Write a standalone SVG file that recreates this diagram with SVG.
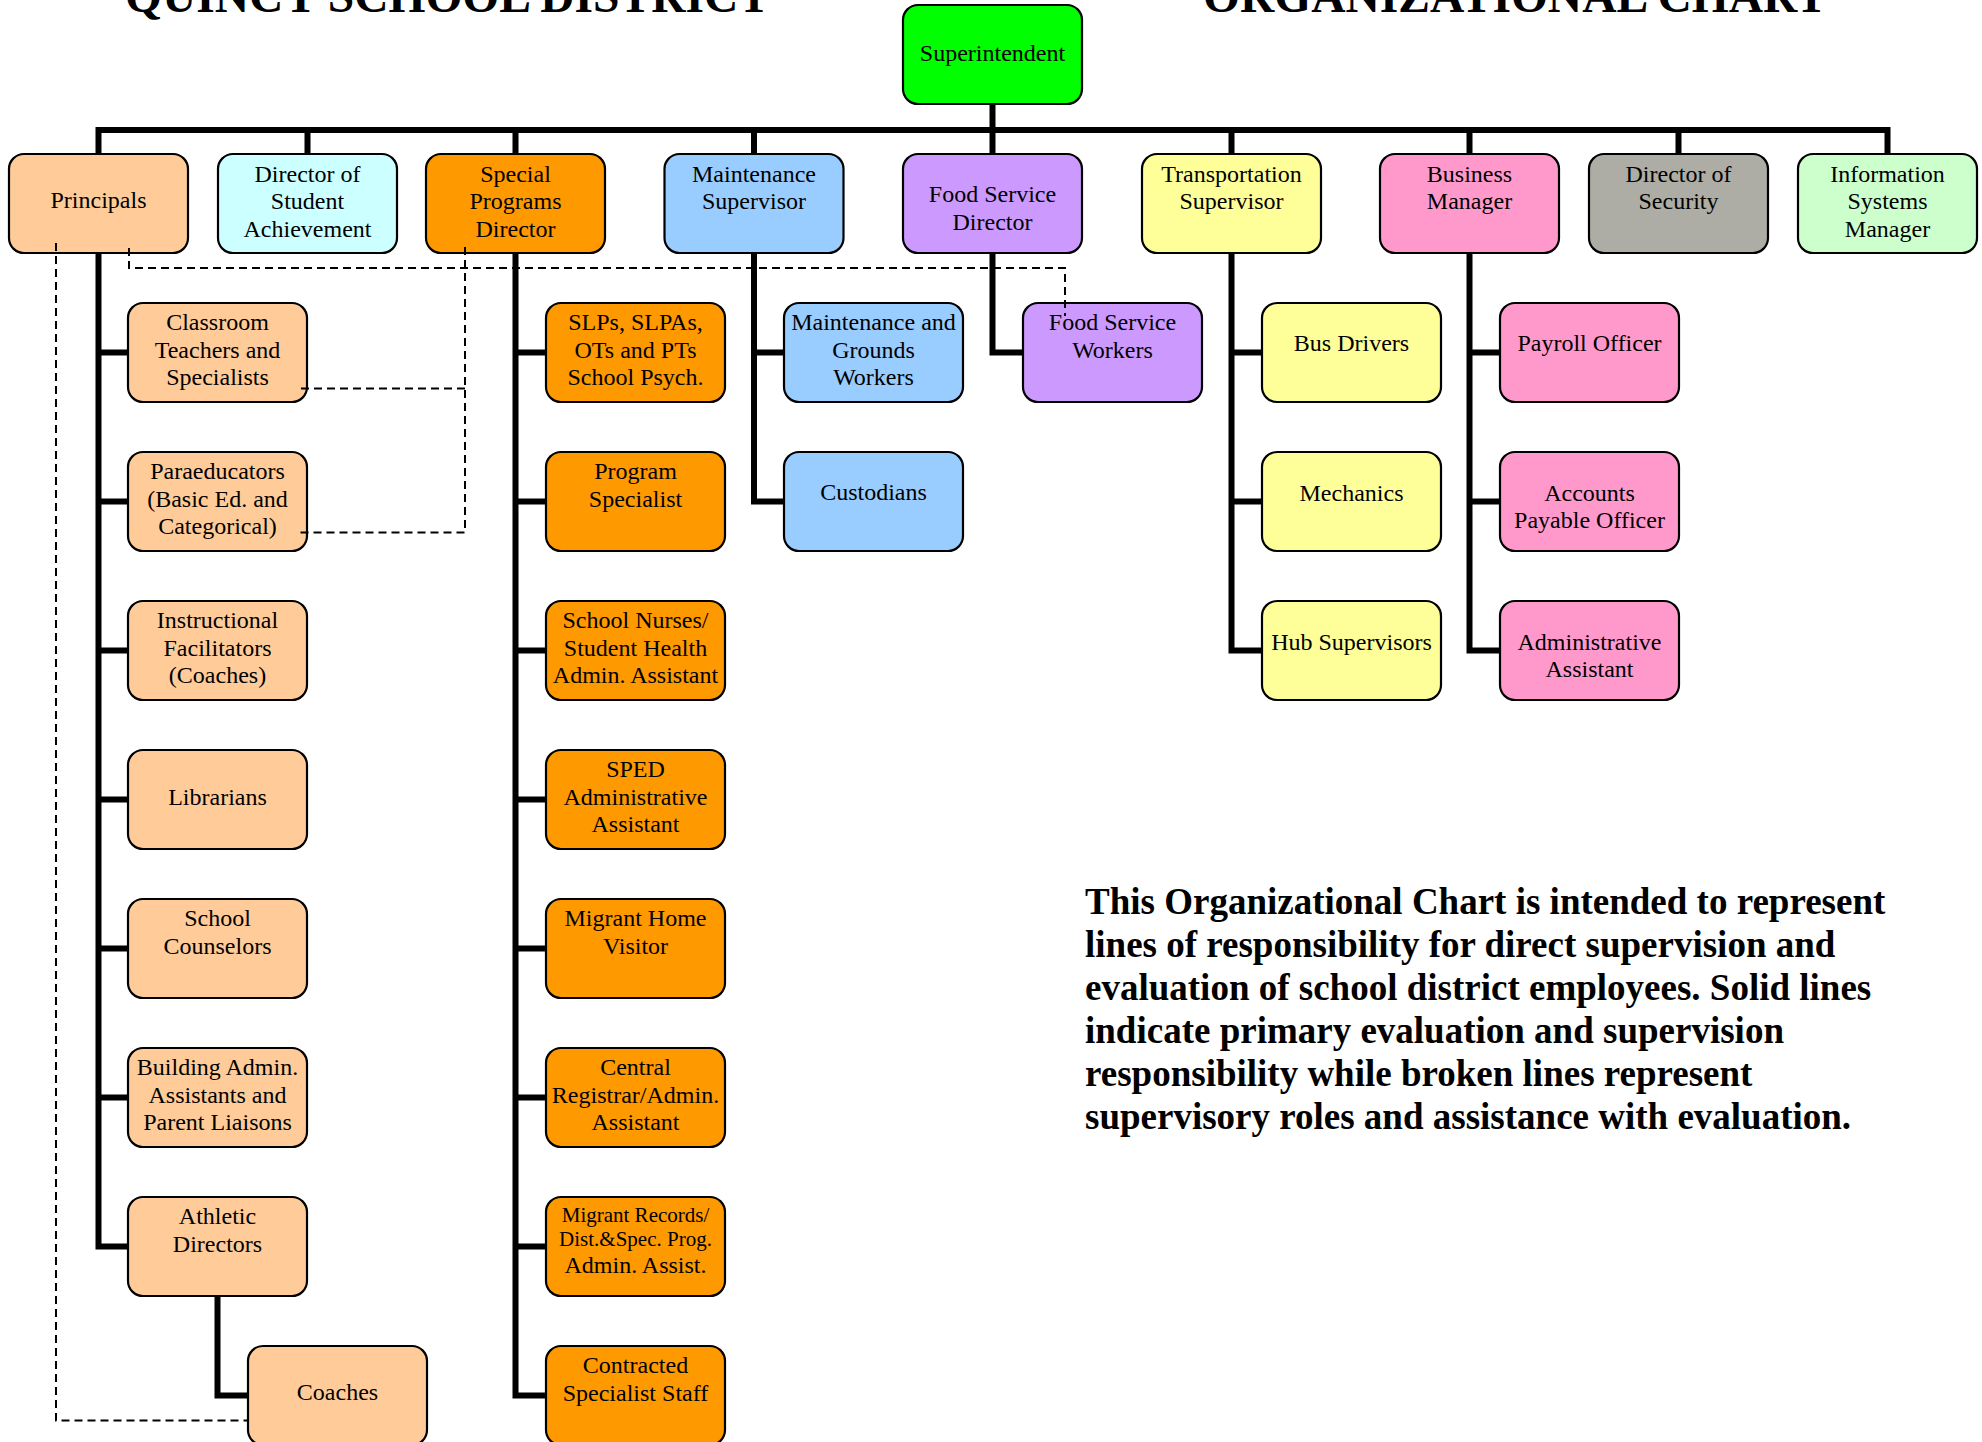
<svg xmlns="http://www.w3.org/2000/svg" width="1982" height="1442" viewBox="0 0 1982 1442">
<style>
.box{stroke:#000;stroke-width:2.2}
.n{font-family:"Liberation Serif","Times New Roman",serif;font-size:24px;text-anchor:middle;fill:#000}
.sm{font-size:21px}
.title{font-family:"Liberation Serif","Times New Roman",serif;font-size:47.5px;font-weight:bold;fill:#000}
.para{font-family:"Liberation Serif","Times New Roman",serif;font-size:37px;font-weight:bold;fill:#000}
.solid{fill:none;stroke:#000;stroke-width:6;stroke-linejoin:miter;stroke-linecap:butt}
.dash{fill:none;stroke:#000;stroke-width:2;stroke-dasharray:8 5}
.green{fill:#00FF00}.peach{fill:#FFCC99}.cyan{fill:#CCFFFF}.orange{fill:#FF9900}.blue{fill:#99CCFF}.purple{fill:#CC99FF}.yellow{fill:#FFFF99}.pink{fill:#FF99CC}.grey{fill:#ADADA5}.mint{fill:#CCFFCC}
</style>
<rect width="1982" height="1442" fill="#fff"/>
<text class="title" x="125" y="12">QUINCY SCHOOL DISTRICT</text>
<text class="title" x="1203" y="12">ORGANIZATIONAL CHART</text>

<g id="nodes">
<g id="superintendent"><rect class="box green" x="903" y="5" width="179" height="99" rx="15"/><text class="n" x="992.5" y="61">Superintendent</text></g>

<g id="principals"><rect class="box peach" x="9" y="154" width="179" height="99" rx="15"/><text class="n" x="98.5" y="208">Principals</text></g>
<g id="director-student-achievement"><rect class="box cyan" x="218" y="154" width="179" height="99" rx="15"/><text class="n"><tspan x="307.5" y="182">Director of</tspan><tspan x="307.5" y="209">Student</tspan><tspan x="307.5" y="237">Achievement</tspan></text></g>
<g id="special-programs-director"><rect class="box orange" x="426" y="154" width="179" height="99" rx="15"/><text class="n"><tspan x="515.5" y="182">Special</tspan><tspan x="515.5" y="209">Programs</tspan><tspan x="515.5" y="237">Director</tspan></text></g>
<g id="maintenance-supervisor"><rect class="box blue" x="664.5" y="154" width="179" height="99" rx="15"/><text class="n"><tspan x="754" y="182">Maintenance</tspan><tspan x="754" y="209">Supervisor</tspan></text></g>
<g id="food-service-director"><rect class="box purple" x="903" y="154" width="179" height="99" rx="15"/><text class="n"><tspan x="992.5" y="202">Food Service</tspan><tspan x="992.5" y="230">Director</tspan></text></g>
<g id="transportation-supervisor"><rect class="box yellow" x="1142" y="154" width="179" height="99" rx="15"/><text class="n"><tspan x="1231.5" y="182">Transportation</tspan><tspan x="1231.5" y="209">Supervisor</tspan></text></g>
<g id="business-manager"><rect class="box pink" x="1380" y="154" width="179" height="99" rx="15"/><text class="n"><tspan x="1469.5" y="182">Business</tspan><tspan x="1469.5" y="209">Manager</tspan></text></g>
<g id="director-security"><rect class="box grey" x="1589" y="154" width="179" height="99" rx="15"/><text class="n"><tspan x="1678.5" y="182">Director of</tspan><tspan x="1678.5" y="209">Security</tspan></text></g>
<g id="information-systems-manager"><rect class="box mint" x="1798" y="154" width="179" height="99" rx="15"/><text class="n"><tspan x="1887.5" y="182">Information</tspan><tspan x="1887.5" y="209">Systems</tspan><tspan x="1887.5" y="237">Manager</tspan></text></g>

<!-- Principals column -->
<g id="classroom-teachers"><rect class="box peach" x="128" y="303" width="179" height="99" rx="15"/><text class="n"><tspan x="217.5" y="330">Classroom</tspan><tspan x="217.5" y="357.5">Teachers and</tspan><tspan x="217.5" y="385">Specialists</tspan></text></g>
<g id="paraeducators"><rect class="box peach" x="128" y="452" width="179" height="99" rx="15"/><text class="n"><tspan x="217.5" y="479">Paraeducators</tspan><tspan x="217.5" y="506.5">(Basic Ed. and</tspan><tspan x="217.5" y="534">Categorical)</tspan></text></g>
<g id="instructional-facilitators"><rect class="box peach" x="128" y="601" width="179" height="99" rx="15"/><text class="n"><tspan x="217.5" y="628">Instructional</tspan><tspan x="217.5" y="655.5">Facilitators</tspan><tspan x="217.5" y="683">(Coaches)</tspan></text></g>
<g id="librarians"><rect class="box peach" x="128" y="750" width="179" height="99" rx="15"/><text class="n" x="217.5" y="805">Librarians</text></g>
<g id="school-counselors"><rect class="box peach" x="128" y="899" width="179" height="99" rx="15"/><text class="n"><tspan x="217.5" y="926">School</tspan><tspan x="217.5" y="953.5">Counselors</tspan></text></g>
<g id="building-admin-assistants"><rect class="box peach" x="128" y="1048" width="179" height="99" rx="15"/><text class="n"><tspan x="217.5" y="1075">Building Admin.</tspan><tspan x="217.5" y="1102.5">Assistants and</tspan><tspan x="217.5" y="1130">Parent Liaisons</tspan></text></g>
<g id="athletic-directors"><rect class="box peach" x="128" y="1197" width="179" height="99" rx="15"/><text class="n"><tspan x="217.5" y="1224">Athletic</tspan><tspan x="217.5" y="1251.5">Directors</tspan></text></g>
<g id="coaches"><rect class="box peach" x="248" y="1346" width="179" height="99" rx="15"/><text class="n" x="337.5" y="1400">Coaches</text></g>

<!-- Special Programs column -->
<g id="slps"><rect class="box orange" x="546" y="303" width="179" height="99" rx="15"/><text class="n"><tspan x="635.5" y="330">SLPs, SLPAs,</tspan><tspan x="635.5" y="357.5">OTs and PTs</tspan><tspan x="635.5" y="385">School Psych.</tspan></text></g>
<g id="program-specialist"><rect class="box orange" x="546" y="452" width="179" height="99" rx="15"/><text class="n"><tspan x="635.5" y="479">Program</tspan><tspan x="635.5" y="506.5">Specialist</tspan></text></g>
<g id="school-nurses"><rect class="box orange" x="546" y="601" width="179" height="99" rx="15"/><text class="n"><tspan x="635.5" y="628">School Nurses/</tspan><tspan x="635.5" y="655.5">Student Health</tspan><tspan x="635.5" y="683">Admin. Assistant</tspan></text></g>
<g id="sped-admin-assistant"><rect class="box orange" x="546" y="750" width="179" height="99" rx="15"/><text class="n"><tspan x="635.5" y="777">SPED</tspan><tspan x="635.5" y="804.5">Administrative</tspan><tspan x="635.5" y="832">Assistant</tspan></text></g>
<g id="migrant-home-visitor"><rect class="box orange" x="546" y="899" width="179" height="99" rx="15"/><text class="n"><tspan x="635.5" y="926">Migrant Home</tspan><tspan x="635.5" y="953.5">Visitor</tspan></text></g>
<g id="central-registrar"><rect class="box orange" x="546" y="1048" width="179" height="99" rx="15"/><text class="n"><tspan x="635.5" y="1075">Central</tspan><tspan x="635.5" y="1102.5">Registrar/Admin.</tspan><tspan x="635.5" y="1130">Assistant</tspan></text></g>
<g id="migrant-records"><rect class="box orange" x="546" y="1197" width="179" height="99" rx="15"/><text class="n"><tspan class="sm" x="635.5" y="1222">Migrant Records/</tspan><tspan class="sm" x="635.5" y="1246">Dist.&amp;Spec. Prog.</tspan><tspan x="635.5" y="1273">Admin. Assist.</tspan></text></g>
<g id="contracted-specialist-staff"><rect class="box orange" x="546" y="1346" width="179" height="99" rx="15"/><text class="n"><tspan x="635.5" y="1373">Contracted</tspan><tspan x="635.5" y="1400.5">Specialist Staff</tspan></text></g>

<!-- Maintenance column -->
<g id="maintenance-grounds-workers"><rect class="box blue" x="784" y="303" width="179" height="99" rx="15"/><text class="n"><tspan x="873.5" y="330">Maintenance and</tspan><tspan x="873.5" y="357.5">Grounds</tspan><tspan x="873.5" y="385">Workers</tspan></text></g>
<g id="custodians"><rect class="box blue" x="784" y="452" width="179" height="99" rx="15"/><text class="n" x="873.5" y="500">Custodians</text></g>

<!-- Food service -->
<g id="food-service-workers"><rect class="box purple" x="1023" y="303" width="179" height="99" rx="15"/><text class="n"><tspan x="1112.5" y="330">Food Service</tspan><tspan x="1112.5" y="357.5">Workers</tspan></text></g>

<!-- Transportation column -->
<g id="bus-drivers"><rect class="box yellow" x="1262" y="303" width="179" height="99" rx="15"/><text class="n" x="1351.5" y="351">Bus Drivers</text></g>
<g id="mechanics"><rect class="box yellow" x="1262" y="452" width="179" height="99" rx="15"/><text class="n" x="1351.5" y="500.5">Mechanics</text></g>
<g id="hub-supervisors"><rect class="box yellow" x="1262" y="601" width="179" height="99" rx="15"/><text class="n" x="1351.5" y="649.5">Hub Supervisors</text></g>

<!-- Business column -->
<g id="payroll-officer"><rect class="box pink" x="1500" y="303" width="179" height="99" rx="15"/><text class="n" x="1589.5" y="351">Payroll Officer</text></g>
<g id="accounts-payable-officer"><rect class="box pink" x="1500" y="452" width="179" height="99" rx="15"/><text class="n"><tspan x="1589.5" y="500.5">Accounts</tspan><tspan x="1589.5" y="528">Payable Officer</tspan></text></g>
<g id="administrative-assistant"><rect class="box pink" x="1500" y="601" width="179" height="99" rx="15"/><text class="n"><tspan x="1589.5" y="649.5">Administrative</tspan><tspan x="1589.5" y="677">Assistant</tspan></text></g>
</g>

<g id="connectors">
<path class="solid" d="M992.5,104 V154"/>
<path class="solid" d="M98.5,154 V130 H1887.5 V154 M307.5,130 V154 M515.5,130 V154 M754,130 V154 M1231.5,130 V154 M1469.5,130 V154 M1678.5,130 V154"/>
<path class="solid" d="M98.5,253 V1246.5 H128 M98.5,352.5 H128 M98.5,501.5 H128 M98.5,650.5 H128 M98.5,799.5 H128 M98.5,948.5 H128 M98.5,1097.5 H128"/>
<path class="solid" d="M217.5,1296 V1395.5 H248"/>
<path class="solid" d="M515.5,253 V1395.5 H546 M515.5,352.5 H546 M515.5,501.5 H546 M515.5,650.5 H546 M515.5,799.5 H546 M515.5,948.5 H546 M515.5,1097.5 H546 M515.5,1246.5 H546"/>
<path class="solid" d="M754,253 V501.5 H784 M754,352.5 H784"/>
<path class="solid" d="M992.5,253 V352.5 H1023"/>
<path class="solid" d="M1231.5,253 V650.5 H1262 M1231.5,352.5 H1262 M1231.5,501.5 H1262"/>
<path class="solid" d="M1469.5,253 V650.5 H1500 M1469.5,352.5 H1500 M1469.5,501.5 H1500"/>
<path class="dash" d="M56,243 V1420.5 H248"/>
<path class="dash" d="M129,248 V268 H1065 V316"/>
<path class="dash" d="M465,247 V532.5 H297 M465,388.5 H297"/>
</g>

<g id="note">
<text class="para" x="1085" y="913.5">This Organizational Chart is intended to represent</text>
<text class="para" x="1085" y="956.5">lines of responsibility for direct supervision and</text>
<text class="para" x="1085" y="999.5">evaluation of school district employees. Solid lines</text>
<text class="para" x="1085" y="1042.5">indicate primary evaluation and supervision</text>
<text class="para" x="1085" y="1085.5">responsibility while broken lines represent</text>
<text class="para" x="1085" y="1128.5">supervisory roles and assistance with evaluation.</text>
</g>
</svg>
